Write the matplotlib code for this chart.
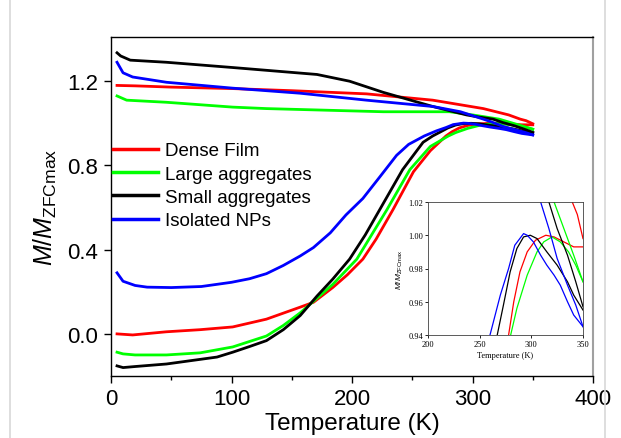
import matplotlib
matplotlib.use("Agg")
import matplotlib.pyplot as plt
from matplotlib.lines import Line2D
from matplotlib.ticker import MultipleLocator

plt.rcParams['font.family'] = ['Liberation Sans', 'DejaVu Sans']
plt.rcParams['mathtext.fontset'] = 'custom'
plt.rcParams['mathtext.rm'] = 'Liberation Sans'
plt.rcParams['mathtext.it'] = 'Liberation Sans:italic'

# ---------------- data ----------------
labels = ["Dense Film", "Large aggregates", "Small aggregates", "Isolated NPs"]
colors = ["#ff0000", "#00ff00", "#000000", "#0000ff"]

# ZFC branches
red_zfc_T = [5, 18, 46, 74, 101, 129, 157, 168, 184, 196, 209, 220, 234, 251, 265, 278, 283, 289, 296, 304, 314, 322, 331.5, 341, 350]
red_zfc_M = [0.0, -0.005, 0.01, 0.02, 0.033, 0.07, 0.127, 0.15, 0.22, 0.28, 0.355, 0.45, 0.59, 0.77, 0.87, 0.94, 0.96, 0.978, 0.99, 0.997, 1.0, 0.999, 0.996, 0.993, 0.993]

green_zfc_T = [5, 10, 20, 46, 74, 101, 129, 143, 157, 171, 184, 204, 229, 248, 265, 280, 286, 296, 305.5, 312, 320, 328, 336, 343, 350]
green_zfc_M = [-0.087, -0.095, -0.10, -0.10, -0.09, -0.062, -0.01, 0.04, 0.10, 0.17, 0.235, 0.355, 0.59, 0.78, 0.89, 0.94, 0.956, 0.976, 0.99, 0.996, 0.999, 0.996, 0.99, 0.982, 0.972]

black_zfc_T = [5, 10, 20, 46, 88, 101, 115, 129, 143, 157, 171, 184, 198, 211, 223, 242, 259, 267, 273, 279.5, 286, 292.5, 299, 305.5, 315, 325, 335, 341, 350]
black_zfc_M = [-0.152, -0.16, -0.155, -0.143, -0.11, -0.087, -0.06, -0.032, 0.02, 0.087, 0.18, 0.26, 0.355, 0.47, 0.59, 0.78, 0.91, 0.94, 0.958, 0.978, 0.992, 0.999, 1.0, 0.998, 0.99, 0.982, 0.972, 0.964, 0.955]

blue_zfc_T = [5, 10, 20, 30, 50, 75, 100, 115, 129, 143, 157, 168, 182, 195, 209, 223, 237, 247, 260, 270, 278, 284, 292.5, 296, 302, 309, 315, 322, 328, 335, 341, 350]
blue_zfc_M = [0.29, 0.25, 0.23, 0.222, 0.22, 0.225, 0.245, 0.262, 0.286, 0.325, 0.37, 0.41, 0.48, 0.565, 0.643, 0.745, 0.848, 0.90, 0.94, 0.964, 0.98, 0.994, 1.001, 1.0, 0.996, 0.988, 0.982, 0.976, 0.97, 0.96, 0.952, 0.945]

# FC branches
red_fc_T = [5, 20, 50, 101, 150, 212, 267, 309, 330, 339.6, 344.5, 350]
red_fc_M = [1.18, 1.178, 1.172, 1.165, 1.155, 1.14, 1.11, 1.07, 1.04, 1.02, 1.0125, 0.998]

green_fc_T = [5, 13, 46, 101, 129, 226, 281, 300, 310, 322, 331.5, 341, 350]
green_fc_M = [1.13, 1.11, 1.10, 1.077, 1.07, 1.055, 1.055, 1.04, 1.031, 1.02, 1.004, 0.988, 0.972]

black_fc_T = [5, 8, 16, 46, 101, 171, 198, 226, 267, 281, 295, 305, 317, 325, 335, 343, 350]
black_fc_M = [1.335, 1.32, 1.30, 1.29, 1.265, 1.232, 1.2, 1.147, 1.08, 1.06, 1.04, 1.03, 1.02, 1.004, 0.988, 0.972, 0.957]

blue_fc_T = [5, 8, 10, 18, 46, 101, 157, 212, 267, 290, 309, 317, 325, 335, 343, 350]
blue_fc_M = [1.29, 1.26, 1.24, 1.22, 1.195, 1.167, 1.143, 1.11, 1.08, 1.055, 1.02, 1.004, 0.986, 0.97, 0.958, 0.945]

zfc_T = [red_zfc_T, green_zfc_T, black_zfc_T, blue_zfc_T]
zfc_M = [red_zfc_M, green_zfc_M, black_zfc_M, blue_zfc_M]
fc_T = [red_fc_T, green_fc_T, black_fc_T, blue_fc_T]
fc_M = [red_fc_M, green_fc_M, black_fc_M, blue_fc_M]

main_xticks = [0, 100, 200, 300, 400]
main_yticks = [0.0, 0.4, 0.8, 1.2]
inset_xticks = [200, 250, 300, 350]
inset_yticks = [0.94, 0.96, 0.98, 1.00, 1.02]

# ---------------- figure ----------------
fig = plt.figure(figsize=(6.21, 4.39), dpi=100)
ax = fig.add_axes([111/621, 62/439, 482/621, 339/439])

for i in range(4):
    ax.plot(zfc_T[i], zfc_M[i], color=colors[i], lw=2.0, label=labels[i])
    ax.plot(fc_T[i], fc_M[i], color=colors[i], lw=2.0)

ax.set_xlim(0, 400)
ax.set_ylim(-0.2, 1.41)
ax.set_xticks(main_xticks)
ax.set_yticks(main_yticks)
ax.set_yticklabels([f"{v:.1f}" for v in main_yticks])
ax.xaxis.set_minor_locator(MultipleLocator(50))
ax.tick_params(which='major', direction='out', length=5, width=1, labelsize=16, pad=4)
ax.tick_params(which='minor', direction='out', length=3, width=1)
ax.tick_params(top=False, right=False)
for s in ['left', 'bottom', 'top']:
    ax.spines[s].set_linewidth(1.0)
    ax.spines[s].set_color('black')
ax.spines['right'].set_color('#a0a0a0')
ax.spines['right'].set_linewidth(1.5)

ax.set_xlabel("Temperature (K)", fontsize=17.5, labelpad=1.5)
ax.set_ylabel(r"$\mathit{M/M}_{\mathrm{ZFCmax}}$", fontsize=18, labelpad=6)

leg = ax.legend(loc='upper left', bbox_to_anchor=(0.005, 0.69), frameon=False,
                fontsize=13.5, handlelength=2.4, handletextpad=0.35,
                labelspacing=0.33, borderpad=0, borderaxespad=0)
for h in leg.legend_handles:
    h.set_linewidth(2.5)

# ---------------- inset ----------------
ins = fig.add_axes([428/621, 103/439, 155/621, 133/439])
for i in range(4):
    ins.plot(zfc_T[i], zfc_M[i], color=colors[i], lw=0.9)
    ins.plot(fc_T[i], fc_M[i], color=colors[i], lw=0.9)
ins.set_xlim(200, 350)
ins.set_ylim(0.94, 1.02)
ins.set_xticks(inset_xticks)
ins.set_yticks(inset_yticks)
ins.set_yticklabels([f"{v:.2f}" for v in inset_yticks])
ins.tick_params(direction='out', length=2, width=0.6, labelsize=6, pad=1.5)
for lab in ins.get_xticklabels() + ins.get_yticklabels():
    lab.set_family('Liberation Serif')
for s in ins.spines.values():
    s.set_linewidth(0.6)
    s.set_color('#404040')
ins.set_xlabel("Temperature (K)", fontsize=6, family='Liberation Serif', labelpad=2)
ins.set_ylabel(r"$M/M_{\mathrm{ZFCmax}}$", fontsize=6, labelpad=2)

# outer light frame lines
fig.add_artist(Line2D([10/621, 10/621], [0, 1], transform=fig.transFigure, color='#d8d8d8', lw=1.2))
fig.add_artist(Line2D([605/621, 605/621], [0, 1], transform=fig.transFigure, color='#d8d8d8', lw=1.2))

fig.savefig("out.png", dpi=100)
